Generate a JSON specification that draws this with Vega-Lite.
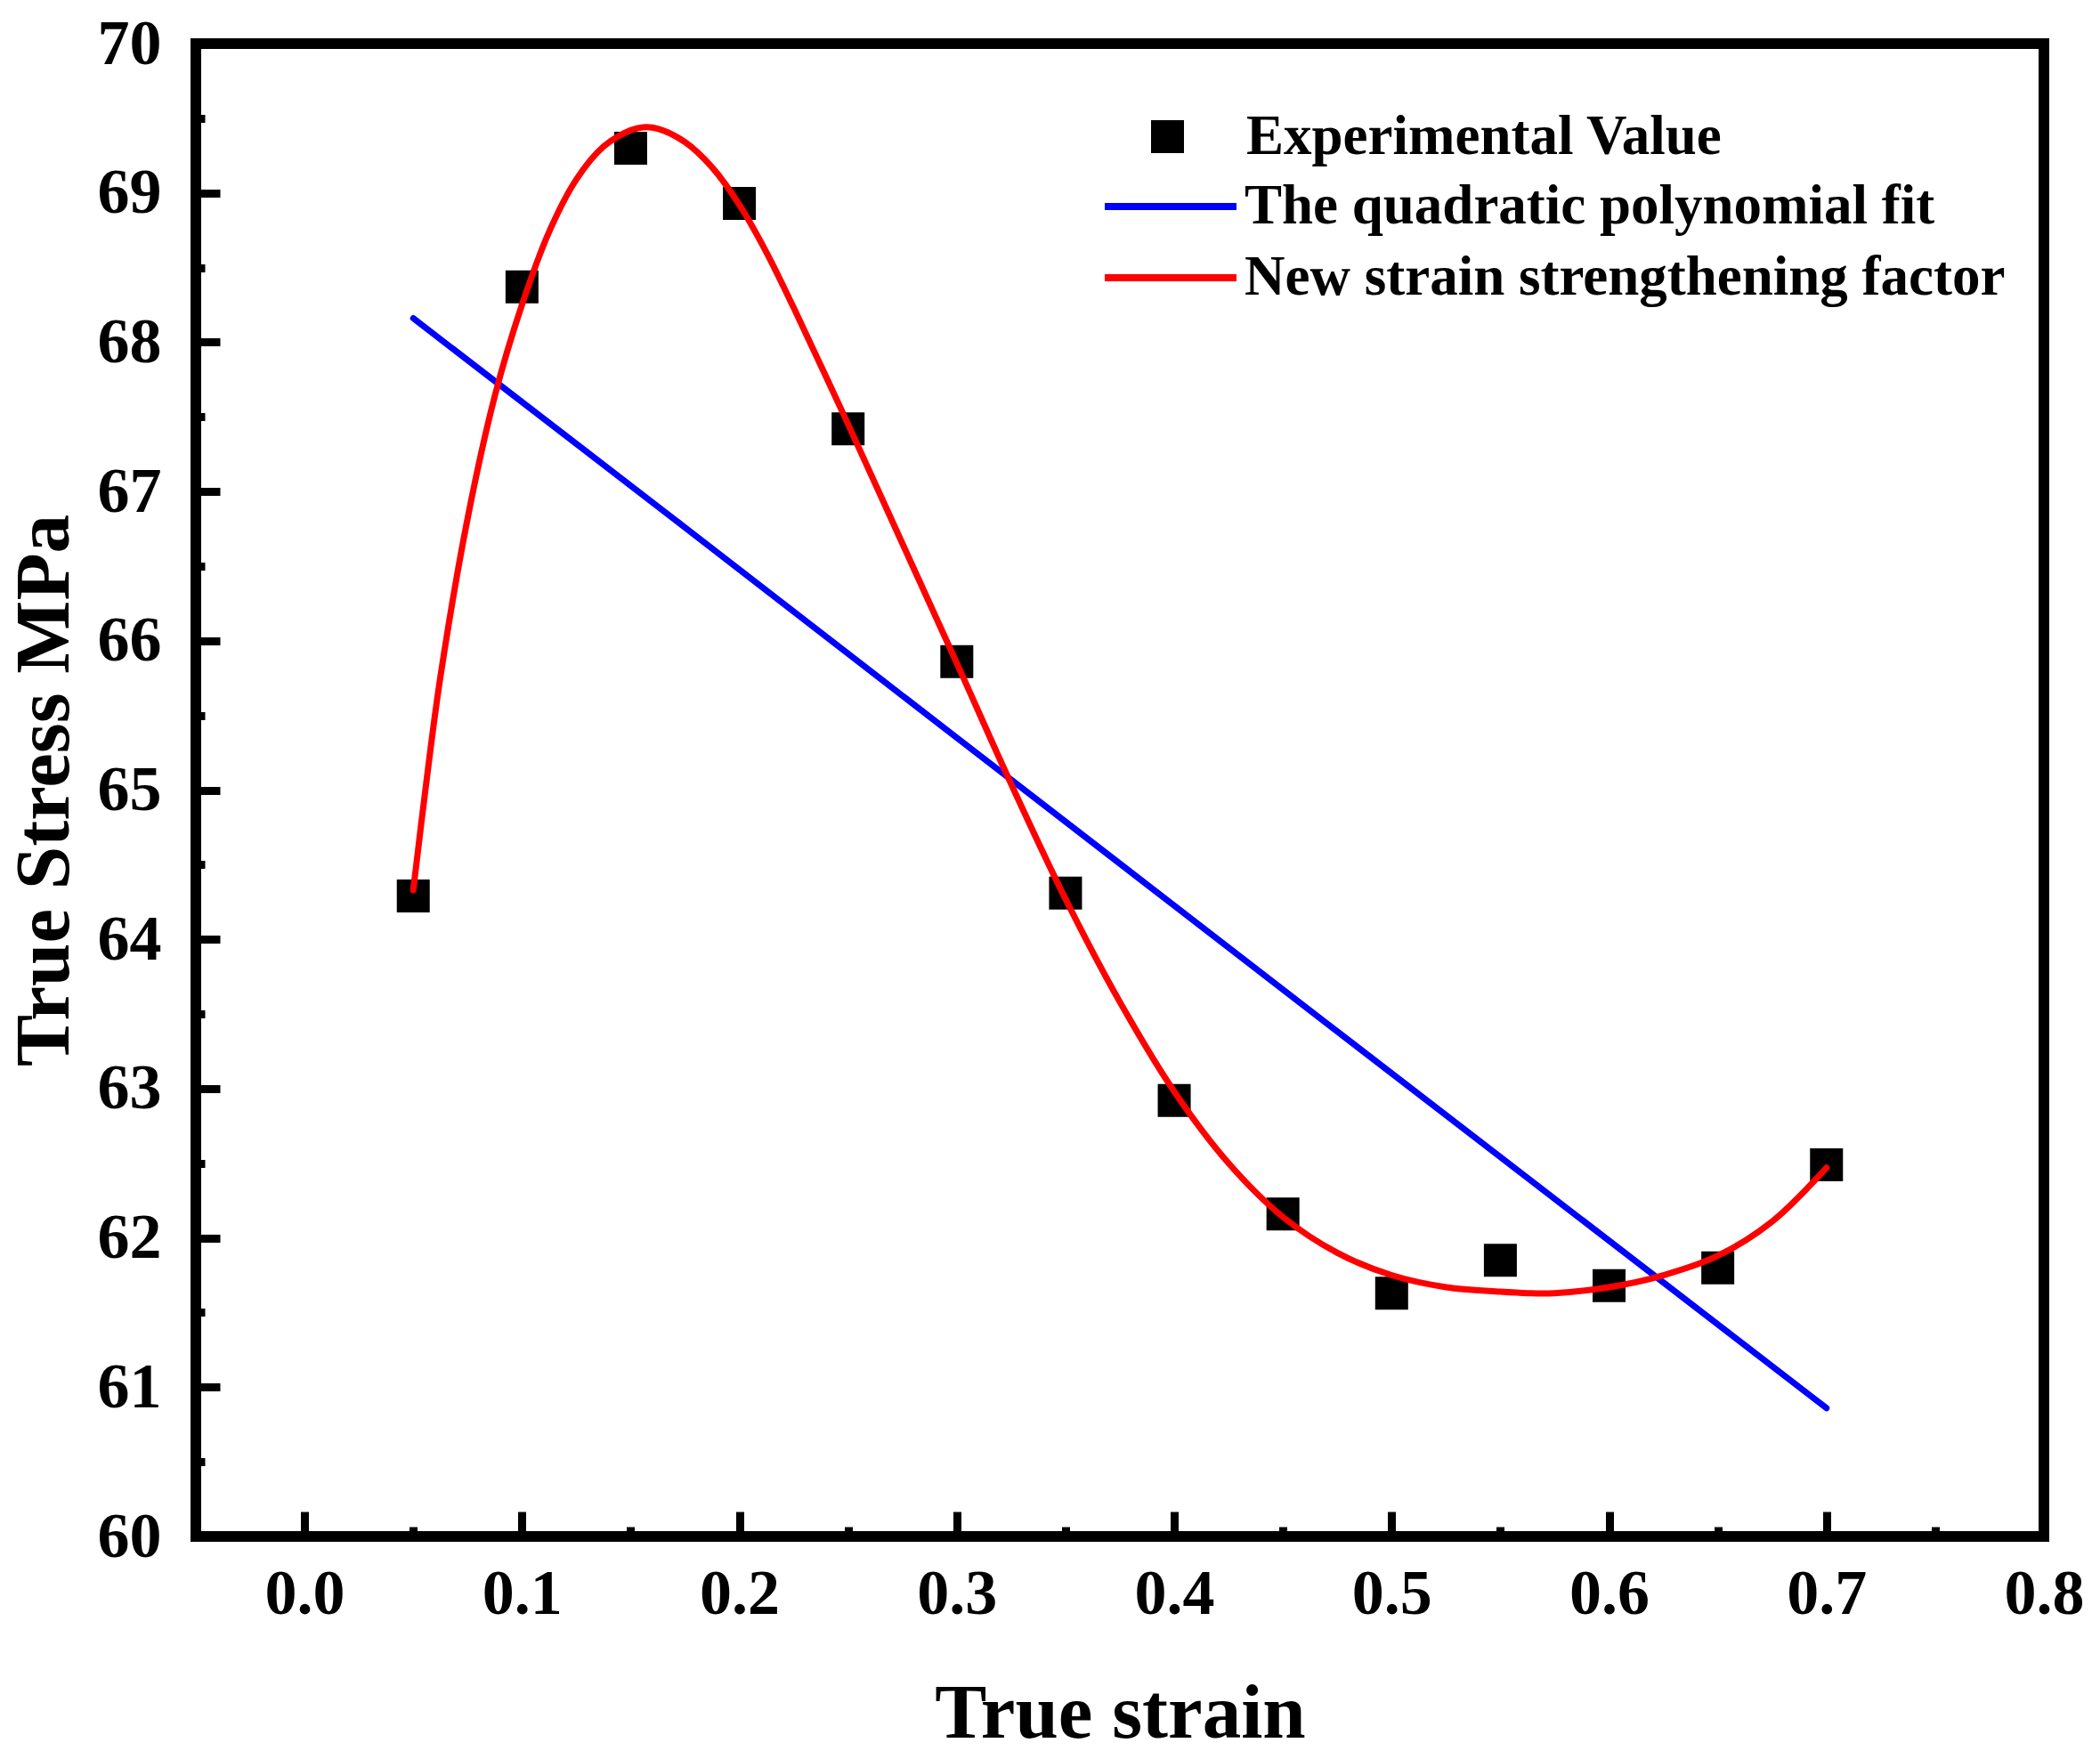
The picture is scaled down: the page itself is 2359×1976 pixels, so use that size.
{
  "$schema": "https://vega.github.io/schema/vega-lite/v6.json",
  "autosize": {"type": "none"},
  "padding": {"left": 220, "top": 49, "right": 63, "bottom": 250},
  "width": 2076,
  "height": 1677,
  "background": "white",
  "config": {
    "view": {"stroke": "black", "strokeWidth": 12},
    "axis": {
      "domain": false,
      "grid": false,
      "labelFont": "Liberation Serif",
      "labelFontWeight": "bold",
      "labelFontSize": 72,
      "labelColor": "black",
      "labelFlush": false,
      "labelOverlap": false,
      "titleFont": "Liberation Serif",
      "titleFontWeight": "bold",
      "titleFontSize": 87,
      "titleColor": "black",
      "tickColor": "black",
      "tickWidth": 9
    },
    "legend": {
      "labelFont": "Liberation Serif",
      "labelFontWeight": "bold",
      "labelFontSize": 63,
      "labelColor": "black",
      "labelLimit": 0,
      "padding": 0,
      "rowPadding": 0
    }
  },
  "datasets": {
    "points": [
      {"strain": 0.05, "stress": 64.29},
      {"strain": 0.10, "stress": 68.37},
      {"strain": 0.15, "stress": 69.30},
      {"strain": 0.20, "stress": 68.93},
      {"strain": 0.25, "stress": 67.42},
      {"strain": 0.30, "stress": 65.86},
      {"strain": 0.35, "stress": 64.31},
      {"strain": 0.40, "stress": 62.92},
      {"strain": 0.45, "stress": 62.16},
      {"strain": 0.50, "stress": 61.63},
      {"strain": 0.55, "stress": 61.85},
      {"strain": 0.60, "stress": 61.68},
      {"strain": 0.65, "stress": 61.80},
      {"strain": 0.70, "stress": 62.49}
    ],
    "fit": [
      {"series": "The quadratic polynomial fit", "strain": 0.05, "stress": 68.16},
      {"series": "The quadratic polynomial fit", "strain": 0.174, "stress": 66.77},
      {"series": "The quadratic polynomial fit", "strain": 0.30, "stress": 65.35},
      {"series": "The quadratic polynomial fit", "strain": 0.469, "stress": 63.45},
      {"series": "The quadratic polynomial fit", "strain": 0.70, "stress": 60.86}
    ],
    "model": [
      {"series": "New strain strengthening factor", "strain": 0.05, "stress": 64.33},
      {"series": "New strain strengthening factor", "strain": 0.05625, "stress": 65.08},
      {"series": "New strain strengthening factor", "strain": 0.0625, "stress": 65.76},
      {"series": "New strain strengthening factor", "strain": 0.075, "stress": 66.82},
      {"series": "New strain strengthening factor", "strain": 0.0875, "stress": 67.64},
      {"series": "New strain strengthening factor", "strain": 0.10, "stress": 68.25},
      {"series": "New strain strengthening factor", "strain": 0.1125, "stress": 68.74},
      {"series": "New strain strengthening factor", "strain": 0.125, "stress": 69.09},
      {"series": "New strain strengthening factor", "strain": 0.1375, "stress": 69.31},
      {"series": "New strain strengthening factor", "strain": 0.15, "stress": 69.42},
      {"series": "New strain strengthening factor", "strain": 0.1557, "stress": 69.44},
      {"series": "New strain strengthening factor", "strain": 0.1625, "stress": 69.43},
      {"series": "New strain strengthening factor", "strain": 0.175, "stress": 69.34},
      {"series": "New strain strengthening factor", "strain": 0.1875, "stress": 69.17},
      {"series": "New strain strengthening factor", "strain": 0.20, "stress": 68.92},
      {"series": "New strain strengthening factor", "strain": 0.2125, "stress": 68.60},
      {"series": "New strain strengthening factor", "strain": 0.225, "stress": 68.23},
      {"series": "New strain strengthening factor", "strain": 0.25, "stress": 67.45},
      {"series": "New strain strengthening factor", "strain": 0.275, "stress": 66.65},
      {"series": "New strain strengthening factor", "strain": 0.30, "stress": 65.85},
      {"series": "New strain strengthening factor", "strain": 0.325, "stress": 65.04},
      {"series": "New strain strengthening factor", "strain": 0.35, "stress": 64.27},
      {"series": "New strain strengthening factor", "strain": 0.375, "stress": 63.58},
      {"series": "New strain strengthening factor", "strain": 0.40, "stress": 62.98},
      {"series": "New strain strengthening factor", "strain": 0.425, "stress": 62.50},
      {"series": "New strain strengthening factor", "strain": 0.45, "stress": 62.14},
      {"series": "New strain strengthening factor", "strain": 0.475, "stress": 61.90},
      {"series": "New strain strengthening factor", "strain": 0.50, "stress": 61.75},
      {"series": "New strain strengthening factor", "strain": 0.525, "stress": 61.67},
      {"series": "New strain strengthening factor", "strain": 0.55, "stress": 61.64},
      {"series": "New strain strengthening factor", "strain": 0.5625, "stress": 61.63},
      {"series": "New strain strengthening factor", "strain": 0.575, "stress": 61.63},
      {"series": "New strain strengthening factor", "strain": 0.60, "stress": 61.67},
      {"series": "New strain strengthening factor", "strain": 0.625, "stress": 61.75},
      {"series": "New strain strengthening factor", "strain": 0.65, "stress": 61.88},
      {"series": "New strain strengthening factor", "strain": 0.675, "stress": 62.11},
      {"series": "New strain strengthening factor", "strain": 0.70, "stress": 62.47}
    ]
  },
  "resolve": {"axis": {"x": "independent", "y": "independent"}},
  "layer": [
    {
      "data": {"name": "points"},
      "mark": {"type": "point", "shape": "square", "filled": true, "size": 1369, "color": "black", "opacity": 1},
      "encoding": {
        "x": {
          "field": "strain",
          "type": "quantitative",
          "scale": {"domain": [-0.05, 0.8], "nice": false, "zero": false},
          "axis": {
            "orient": "bottom",
            "title": "True strain",
            "values": [0, 0.1, 0.2, 0.3, 0.4, 0.5, 0.6, 0.7, 0.8],
            "format": ".1f",
            "tickSize": -28,
            "labelPadding": 57,
            "titlePadding": 56
          }
        },
        "y": {
          "field": "stress",
          "type": "quantitative",
          "scale": {"domain": [60, 70], "nice": false, "zero": false},
          "axis": {
            "orient": "left",
            "title": "True Stress MPa",
            "values": [60, 61, 62, 63, 64, 65, 66, 67, 68, 69, 70],
            "format": "d",
            "tickSize": -27,
            "labelPadding": 66,
            "titlePadding": 15
          }
        },
        "shape": {
          "datum": "Experimental Value",
          "scale": {"domain": ["Experimental Value"], "range": ["square"]},
          "legend": {
            "orient": "none",
            "legendX": 1060,
            "legendY": 73,
            "title": null,
            "symbolSize": 1369,
            "symbolFillColor": "black",
            "symbolStrokeColor": "black",
            "symbolStrokeWidth": 0,
            "symbolOpacity": 1,
            "labelOffset": 57
          }
        }
      }
    },
    {
      "data": {"name": "fit"},
      "mark": {"type": "line", "strokeWidth": 7, "strokeCap": "round"},
      "encoding": {
        "x": {
          "field": "strain",
          "type": "quantitative",
          "scale": {"domain": [-0.05, 0.8], "nice": false, "zero": false},
          "axis": {
            "orient": "bottom",
            "title": null,
            "values": [0.05, 0.15, 0.25, 0.35, 0.45, 0.55, 0.65, 0.75],
            "labels": false,
            "tickSize": -11
          }
        },
        "y": {
          "field": "stress",
          "type": "quantitative",
          "scale": {"domain": [60, 70], "nice": false, "zero": false},
          "axis": {
            "orient": "left",
            "title": null,
            "values": [60.5, 61.5, 62.5, 63.5, 64.5, 65.5, 66.5, 67.5, 68.5, 69.5],
            "labels": false,
            "tickSize": -10
          }
        },
        "color": {
          "field": "series",
          "type": "nominal",
          "scale": {"domain": ["The quadratic polynomial fit", "New strain strengthening factor"], "range": ["#0000ff", "#ff0000"]},
          "legend": {
            "orient": "none",
            "legendX": 1017,
            "legendY": 143,
            "title": null,
            "symbolType": "stroke",
            "symbolSize": 21904,
            "symbolStrokeWidth": 8,
            "clipHeight": 80,
            "labelOffset": 5
          }
        }
      }
    },
    {
      "data": {"name": "model"},
      "mark": {"type": "line", "strokeWidth": 7, "strokeCap": "round", "interpolate": "catmull-rom"},
      "encoding": {
        "x": {
          "field": "strain",
          "type": "quantitative",
          "scale": {"domain": [-0.05, 0.8], "nice": false, "zero": false},
          "axis": null
        },
        "y": {
          "field": "stress",
          "type": "quantitative",
          "scale": {"domain": [60, 70], "nice": false, "zero": false},
          "axis": null
        },
        "color": {"field": "series", "type": "nominal"}
      }
    }
  ]
}
